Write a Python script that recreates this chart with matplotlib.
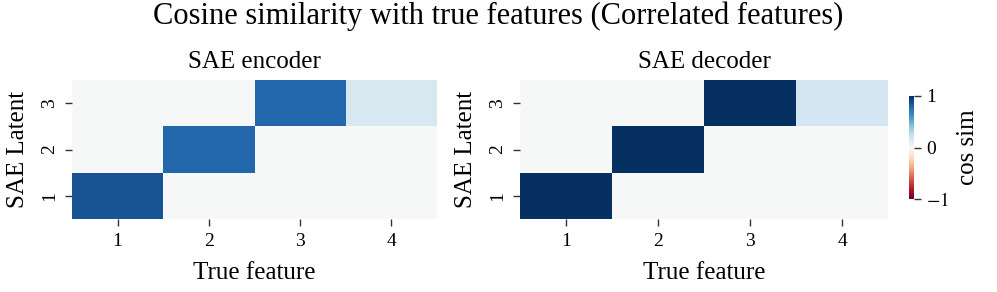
import numpy as np
import matplotlib
matplotlib.use("Agg")
import matplotlib.pyplot as plt

plt.rcParams['font.family'] = ['Liberation Serif', 'DejaVu Serif']
plt.rcParams['mathtext.fontset'] = 'stix'

# cosine similarity, rows = SAE latent 1..3, cols = true feature 1..4
latents = [1, 2, 3]
features = [1, 2, 3, 4]
enc_sim = np.array([
    [0.86, 0.0, 0.0, 0.0],
    [0.0, 0.79, 0.0, 0.0],
    [0.0, 0.0, 0.79, 0.17],
])
dec_sim = np.array([
    [1.00, 0.0, 0.0, 0.0],
    [0.0, 1.00, 0.0, 0.0],
    [0.0, 0.0, 1.00, 0.18],
])

fig = plt.figure(figsize=(9.97, 2.92), dpi=100)
ax1 = fig.add_axes([72/997, 1-219/292, 365/997, 139/292])
ax2 = fig.add_axes([520/997, 1-219/292, 368/997, 139/292])
cax = fig.add_axes([909/997, 1-199/292, 5/997, 103/292])

fig.suptitle("Cosine similarity with true features (Correlated features)",
             fontsize=22, y=0.995)

for ax, data, title in [(ax1, enc_sim, "SAE encoder"), (ax2, dec_sim, "SAE decoder")]:
    x = np.arange(len(features) + 1)
    y = np.arange(len(latents) + 1)
    mesh = ax.pcolormesh(x, y, data, cmap='RdBu', vmin=-1, vmax=1)
    ax.set_xlim(0, len(features))
    ax.set_ylim(0, len(latents))
    ax.set_xticks(np.arange(len(features)) + 0.5)
    ax.set_xticklabels(features)
    ax.set_yticks(np.arange(len(latents)) + 0.5)
    ax.set_yticklabels(latents, rotation=90, va='center')
    for s in ax.spines.values():
        s.set_visible(False)
    ax.tick_params(labelsize=14, length=5, width=1, color='#333333', pad=5)
    ax.set_title(title, fontsize=18, pad=9)
    ax.set_xlabel("True feature", fontsize=18, labelpad=9)
    ax.set_ylabel("SAE Latent", fontsize=18, labelpad=9)

cb = fig.colorbar(mesh, cax=cax, ticks=[-1, 0, 1])
cb.outline.set_visible(False)
cb.ax.set_yticklabels(["$-1$", "0", "1"])
cb.ax.tick_params(labelsize=14, length=5, width=1, color='#333333')
cb.set_label("cos sim", fontsize=18, labelpad=6)

fig.savefig("out.png", dpi=100)
